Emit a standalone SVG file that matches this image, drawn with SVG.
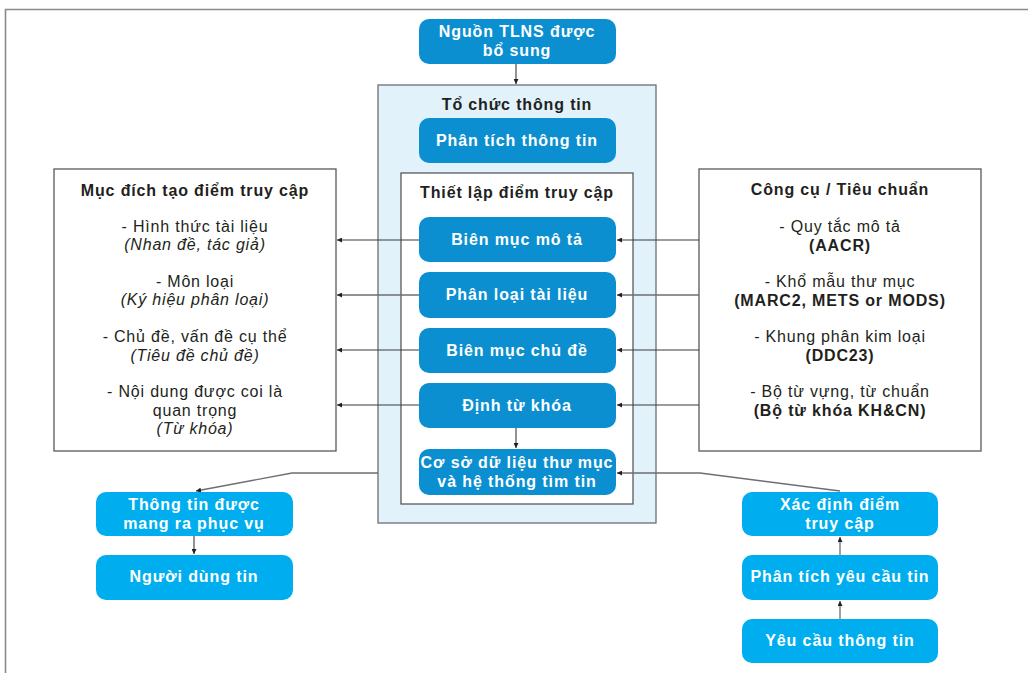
<svg xmlns="http://www.w3.org/2000/svg" width="1028" height="673" viewBox="0 0 1028 673">
<defs>
<style>
.dk{fill:#0b8fd0;}
.lt{fill:#00aeef;}
.wt{font-family:"Liberation Sans",Arial,sans-serif;font-size:16px;font-weight:bold;fill:#ffffff;text-anchor:middle;letter-spacing:0.9px;}
.bt{font-family:"Liberation Sans",Arial,sans-serif;font-size:16px;font-weight:bold;fill:#231f20;text-anchor:middle;letter-spacing:0.85px;}
.rt{font-family:"Liberation Sans",Arial,sans-serif;font-size:16px;fill:#231f20;text-anchor:middle;letter-spacing:0.8px;}
.it{font-style:italic;}
.box{fill:#ffffff;stroke:#58595b;stroke-width:1.3;}
.con{fill:none;stroke:#3a3a3a;stroke-width:1.1;}
.con2{fill:none;stroke:#6d6e71;stroke-width:1.3;}
</style>
<marker id="ah" viewBox="0 0 6 6" refX="6" refY="3" markerWidth="5" markerHeight="5" orient="auto" markerUnits="userSpaceOnUse">
<path d="M0,0 L6,3 L0,6 z" fill="#231f20"/>
</marker>
</defs>
<rect width="1028" height="673" fill="#ffffff"/>
<path d="M5.5,673 L5.5,9.5 L1028,9.5" fill="none" stroke="#8a8a8a" stroke-width="1.6"/>

<g id="org">
<rect x="378" y="85" width="278" height="438" fill="#e1f2fa" stroke="#6d6e71" stroke-width="1.3"/>
<text class="bt" x="517" y="110">Tổ chức thông tin</text>
</g>
<g id="setup">
<rect x="401" y="173" width="232" height="331" class="box"/>
<text class="bt" x="517" y="198">Thiết lập điểm truy cập</text>
</g>

<g id="purpose">
<rect x="54" y="169" width="282" height="282" class="box"/>
<text class="bt" x="195" y="196">Mục đích tạo điểm truy cập</text>
<text class="rt" x="195" y="232">- Hình thức tài liệu</text>
<text class="rt it" x="195" y="250">(Nhan đề, tác giả)</text>
<text class="rt" x="195" y="287">- Môn loại</text>
<text class="rt it" x="195" y="305">(Ký hiệu phân loại)</text>
<text class="rt" x="195" y="342">- Chủ đề, vấn đề cụ thể</text>
<text class="rt it" x="195" y="361">(Tiêu đề chủ đề)</text>
<text class="rt" x="195" y="397">- Nội dung được coi là</text>
<text class="rt" x="195" y="416">quan trọng</text>
<text class="rt it" x="195" y="434">(Từ khóa)</text>
</g>

<g id="tools">
<rect x="699" y="169" width="282" height="282" class="box"/>
<text class="bt" x="840" y="195">Công cụ / Tiêu chuẩn</text>
<text class="rt" x="840" y="232">- Quy tắc mô tả</text>
<text class="bt" x="840" y="251">(AACR)</text>
<text class="rt" x="840" y="287">- Khổ mẫu thư mục</text>
<text class="bt" x="840" y="306">(MARC2, METS or MODS)</text>
<text class="rt" x="840" y="342">- Khung phân kim loại</text>
<text class="bt" x="840" y="361">(DDC23)</text>
<text class="rt" x="840" y="397">- Bộ từ vựng, từ chuẩn</text>
<text class="bt" x="840" y="416">(Bộ từ khóa KH&amp;CN)</text>
</g>

<g id="connectors">
<path class="con" d="M516,64 V84" marker-end="url(#ah)"/>
<path class="con" d="M419,240 H337" marker-end="url(#ah)"/>
<path class="con2" d="M419,295 H337" marker-end="url(#ah)"/>
<path class="con" d="M419,350 H337" marker-end="url(#ah)"/>
<path class="con" d="M419,405 H337" marker-end="url(#ah)"/>
<path class="con" d="M699,240 H617" marker-end="url(#ah)"/>
<path class="con2" d="M699,295 H617" marker-end="url(#ah)"/>
<path class="con" d="M699,350 H617" marker-end="url(#ah)"/>
<path class="con" d="M699,405 H617" marker-end="url(#ah)"/>
<path class="con" d="M516,428 V448" marker-end="url(#ah)"/>
<path class="con2" d="M378,473 H292 L196,491" marker-end="url(#ah)"/>
<path class="con2" d="M840,491 L700,473 H617" marker-end="url(#ah)"/>
<path class="con" d="M194,536 V554" marker-end="url(#ah)"/>
<path class="con2" d="M840,555 V537" marker-end="url(#ah)"/>
<path class="con2" d="M840,619 V601" marker-end="url(#ah)"/>
</g>

<g id="source">
<rect x="419" y="19" width="197" height="45" rx="10" class="dk"/>
<text class="wt" x="517" y="37">Nguồn TLNS được</text>
<text class="wt" x="517" y="56">bổ sung</text>
</g>
<g id="analysis">
<rect x="419" y="118" width="197" height="45" rx="10" class="dk"/>
<text class="wt" x="517" y="146">Phân tích thông tin</text>
</g>
<g id="desc">
<rect x="419" y="217" width="197" height="45" rx="10" class="dk"/>
<text class="wt" x="517" y="245">Biên mục mô tả</text>
</g>
<g id="classify">
<rect x="419" y="272" width="197" height="46" rx="10" class="dk"/>
<text class="wt" x="517" y="300">Phân loại tài liệu</text>
</g>
<g id="subject">
<rect x="419" y="328" width="197" height="45" rx="10" class="dk"/>
<text class="wt" x="517" y="356">Biên mục chủ đề</text>
</g>
<g id="keyword">
<rect x="419" y="383" width="197" height="45" rx="10" class="dk"/>
<text class="wt" x="517" y="411">Định từ khóa</text>
</g>
<g id="db">
<rect x="419" y="449" width="197" height="46" rx="10" class="dk"/>
<text class="wt" x="517" y="468">Cơ sở dữ liệu thư mục</text>
<text class="wt" x="517" y="487">và hệ thống tìm tin</text>
</g>

<g id="served">
<rect x="96" y="492" width="197" height="44" rx="10" class="lt"/>
<text class="wt" x="194" y="510">Thông tin được</text>
<text class="wt" x="194" y="529">mang ra phục vụ</text>
</g>
<g id="user">
<rect x="96" y="555" width="197" height="45" rx="10" class="lt"/>
<text class="wt" x="194" y="582">Người dùng tin</text>
</g>

<g id="determine">
<rect x="742" y="492" width="196" height="44" rx="10" class="lt"/>
<text class="wt" x="840" y="510">Xác định điểm</text>
<text class="wt" x="840" y="529">truy cập</text>
</g>
<g id="analyze-req">
<rect x="742" y="555" width="196" height="45" rx="10" class="lt"/>
<text class="wt" x="840" y="582">Phân tích yêu cầu tin</text>
</g>
<g id="request">
<rect x="742" y="619" width="196" height="44" rx="10" class="lt"/>
<text class="wt" x="840" y="646">Yêu cầu thông tin</text>
</g>
</svg>
